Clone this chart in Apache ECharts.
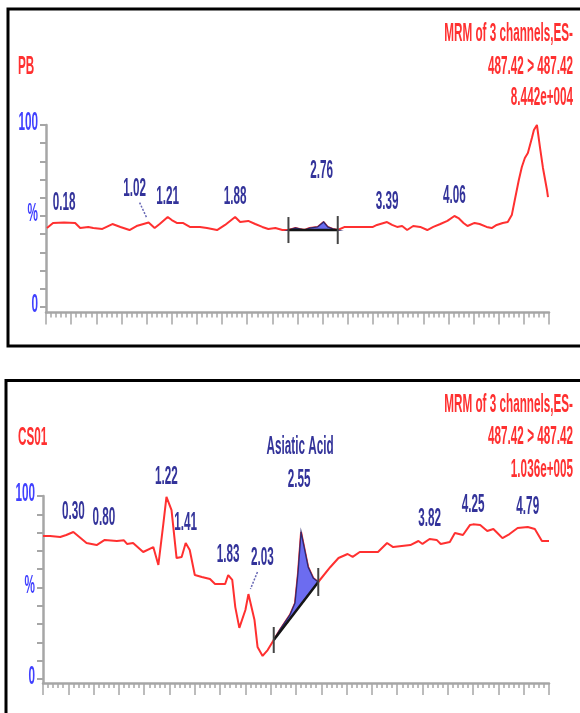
<!DOCTYPE html>
<html>
<head>
<meta charset="utf-8">
<script src="https://cdn.jsdelivr.net/npm/echarts@6/dist/echarts.min.js"></script>
<style>
  html, body { margin: 0; padding: 0; background: #fff; }
  #chart { width: 580px; height: 713px; }
</style>
</head>
<body>
<div id="chart"></div>
<script>
// ---- PB channel: retention time (min) and relative intensity (%) ----
const pbTime = [0.01, 0.07, 0.18, 0.29, 0.34, 0.42, 0.47, 0.56, 0.66, 0.74, 0.83, 0.90, 0.96, 1.02,
  1.08, 1.13, 1.21, 1.25, 1.30, 1.36, 1.43, 1.53, 1.60, 1.70, 1.78, 1.88, 1.93, 2.01, 2.08, 2.15,
  2.21, 2.28, 2.35, 2.41, 2.48, 2.52, 2.57, 2.62, 2.70, 2.76, 2.80, 2.85, 2.90, 2.97, 3.12, 3.25,
  3.29, 3.39, 3.44, 3.49, 3.54, 3.59, 3.65, 3.72, 3.79, 3.85, 3.92, 3.99, 4.06, 4.10, 4.15, 4.19,
  4.26, 4.31, 4.38, 4.43, 4.48, 4.54, 4.59, 4.63, 4.66, 4.70, 4.73, 4.76, 4.79, 4.83, 4.85, 4.88,
  4.89, 4.91, 4.94, 4.98, 4.99];
const pbIntensity = [43.4, 46.2, 46.5, 46.2, 43.4, 44.0, 43.4, 42.9, 45.6, 44.0, 42.3, 44.5, 45.5, 46.4,
  43.4, 45.6, 49.5, 47.8, 46.2, 46.2, 44.0, 44.0, 43.4, 42.3, 45.1, 49.5, 46.7, 47.3, 45.6, 44.0,
  42.9, 43.4, 42.3, 42.3, 43.4, 42.9, 42.3, 43.4, 44.0, 46.7, 44.0, 42.9, 42.3, 44.0, 44.0, 44.0,
  45.1, 46.7, 45.1, 44.0, 44.5, 42.3, 44.5, 44.0, 42.3, 44.0, 45.6, 47.3, 50.0, 48.9, 46.2, 44.5,
  46.2, 45.6, 44.0, 43.4, 45.1, 46.2, 46.7, 50.5, 58.8, 69.8, 76.9, 81.9, 84.6, 92.9, 97.3, 100,
  100, 87.9, 76.4, 64.3, 60.4];
const pbPeakTimes = [0.18, 1.02, 1.21, 1.88, 2.76, 3.39, 4.06];
const pbIntegration = [[2.41, 42.3], [2.90, 42.3]];
const pbHeader = ['MRM of 3 channels,ES-', '487.42 > 487.42', '8.442e+004'];
const pbName = 'PB';

// ---- CS01 channel ----
const csTime = [0.00, 0.07, 0.17, 0.23, 0.30, 0.43, 0.53, 0.61, 0.73, 0.80, 0.83, 0.89, 0.99, 1.09,
  1.14, 1.19, 1.22, 1.27, 1.32, 1.37, 1.41, 1.45, 1.50, 1.57, 1.65, 1.70, 1.80, 1.83, 1.87, 1.90,
  1.94, 2.00, 2.03, 2.09, 2.12, 2.17, 2.22, 2.28, 2.34, 2.44, 2.49, 2.52, 2.55, 2.62, 2.67, 2.72,
  2.84, 2.92, 3.01, 3.06, 3.13, 3.31, 3.40, 3.46, 3.63, 3.71, 3.75, 3.82, 3.89, 3.93, 4.02, 4.07,
  4.15, 4.22, 4.25, 4.32, 4.39, 4.45, 4.49, 4.54, 4.61, 4.69, 4.79, 4.86, 4.93, 5.00];
const csIntensity = [78.1, 78.1, 77.6, 78.7, 80.3, 74.3, 73.2, 76.0, 75.4, 75.8, 73.8, 74.3, 69.4, 72.1,
  62.3, 85.2, 99.5, 92.3, 66.1, 66.7, 74.3, 70.5, 56.8, 55.7, 54.6, 51.9, 51.9, 56.8, 54.1, 39.3,
  27.9, 37.7, 46.4, 32.2, 17.5, 12.6, 15.8, 21.3, 26.8, 35.0, 41.5, 58.0, 80.3, 61.2, 55.2, 53.0,
  61.2, 66.1, 68.3, 66.7, 69.4, 69.4, 74.3, 72.1, 73.2, 75.4, 73.8, 76.5, 76.0, 73.8, 74.9, 79.8,
  78.7, 84.2, 84.5, 84.2, 80.9, 82.0, 79.8, 77.0, 79.2, 82.5, 83.1, 82.0, 75.4, 75.4];
const csPeakTimes = [0.30, 0.80, 1.22, 1.41, 1.83, 2.03, 2.55, 3.82, 4.25, 4.79];
const csIntegration = [[2.28, 21.3], [2.72, 53.0]];
const csHeader = ['MRM of 3 channels,ES-', '487.42 > 487.42', '1.036e+005'];
const csName = 'CS01';
const csCompound = { '2.55': 'Asiatic Acid' };

// ---- shared axis values ----
const timeMin = 0;
const timeMax = 5.0;
const yTickValues = [0, 10, 20, 30, 40, 50, 60, 70, 80, 90, 100];
const yLabelValues = [0, 50, 100];
const yLabelTexts = ['0', '%', '100'];

// ---- styling ----
const FONT = 'bold 26px "Liberation Sans", Arial, sans-serif';
const SQUEEZE = 0.45;              // tall, narrow instrument-report lettering
const RED = '#ff3030';
const PEAK_BLUE = '#33339a';
const AXIS_BLUE = '#4040ff';
const AXIS_GREY = '#a6a6a6';

// label offsets (px) relative to the apex; a third entry draws a leader line
const pbShift = { '1.02': [-14, -34, true], '2.76': [-2, -51] };
const csShift = { '0.80': [-20, -22], '2.03': [14, -36, true], '2.55': [-2, -52] };
const defaultShift = [0, -20];

function traceData(times, values) {
  return times.map((t, i) => [t, values[i]]);
}

function xAxisCfg(gridIndex) {
  return {
    type: 'value', gridIndex, min: timeMin, max: timeMax, interval: 0.25,
    axisLine: { onZero: false, lineStyle: { color: AXIS_GREY, width: 2.5 } },
    axisTick: { show: true, length: 12, lineStyle: { color: AXIS_GREY, width: 1.5 } },
    minorTick: { show: true, splitNumber: 5, length: 5, lineStyle: { color: AXIS_GREY, width: 1.5 } },
    axisLabel: { show: false },
    splitLine: { show: false },
    minorSplitLine: { show: false }
  };
}

function yAxisCfg(gridIndex, min) {
  return {
    type: 'value', gridIndex, min, max: 100,
    axisLine: { show: true, lineStyle: { color: AXIS_GREY, width: 2.5 } },
    axisTick: { show: true, length: 6, customValues: yTickValues, lineStyle: { color: AXIS_GREY, width: 2 } },
    axisLabel: { show: false },
    splitLine: { show: false }
  };
}

function lineSeries(gridIndex, times, values) {
  return {
    type: 'line', xAxisIndex: gridIndex, yAxisIndex: gridIndex,
    data: traceData(times, values),
    showSymbol: false, silent: true, z: 3,
    lineStyle: { color: RED, width: 2 }
  };
}

function squeezedText(text, x, y, fill, align) {
  return {
    type: 'text', x, y, scaleX: SQUEEZE,
    style: { text, fill, font: FONT, align: align || 'center', verticalAlign: 'middle' }
  };
}

function yLabelSeries(gridIndex) {
  return {
    type: 'custom', xAxisIndex: gridIndex, yAxisIndex: gridIndex, silent: true, z: 10,
    data: yLabelValues.map(v => [timeMin, v]),
    renderItem(params, api) {
      const p = api.coord([api.value(0), api.value(1)]);
      return squeezedText(yLabelTexts[params.dataIndex], p[0] - 8, p[1] - 2, AXIS_BLUE, 'right');
    }
  };
}

function peakLabelSeries(gridIndex, times, values, peaks, shifts, compound) {
  return {
    type: 'custom', xAxisIndex: gridIndex, yAxisIndex: gridIndex, silent: true, z: 10,
    data: peaks.map(t => [t, values[times.indexOf(t)]]),
    renderItem(params, api) {
      const t = api.value(0);
      const p = api.coord([t, api.value(1)]);
      const text = t.toFixed(2);
      const s = shifts[text] || defaultShift;
      const cx = p[0] + s[0];
      const cy = p[1] + s[1];
      const children = [squeezedText(text, cx, cy, PEAK_BLUE)];
      if (s[2]) {
        const dir = Math.sign(p[0] - cx);
        children.push({
          type: 'line',
          shape: { x1: cx + dir * 5, y1: cy + 14, x2: p[0] - dir * 2, y2: p[1] - 5 },
          style: { stroke: '#6767b4', lineWidth: 1.5, lineDash: [2, 1.5] }
        });
      }
      if (compound && compound[text]) {
        children.push(squeezedText(compound[text], cx + 1, cy - 33, PEAK_BLUE));
      }
      return { type: 'group', children };
    }
  };
}

function integrationSeries(gridIndex, times, values, win) {
  return {
    type: 'custom', xAxisIndex: gridIndex, yAxisIndex: gridIndex, silent: true, z: 6,
    data: [win[0]],
    renderItem(params, api) {
      const a = api.coord(win[0]);
      const b = api.coord(win[1]);
      const pts = [a];
      times.forEach((t, i) => {
        if (t > win[0][0] && t < win[1][0]) pts.push(api.coord([t, values[i]]));
      });
      pts.push(b);
      return {
        type: 'group',
        children: [
          { type: 'polygon', shape: { points: pts }, style: { fill: '#6c6cf0', stroke: '#2c2a6e', lineWidth: 1.3 } },
          { type: 'line', shape: { x1: a[0], y1: a[1], x2: b[0], y2: b[1] }, style: { stroke: '#151515', lineWidth: 2.5 } },
          { type: 'line', shape: { x1: a[0], y1: a[1] - 13, x2: a[0], y2: a[1] + 13 }, style: { stroke: '#444', lineWidth: 2 } },
          { type: 'line', shape: { x1: b[0], y1: b[1] - 14, x2: b[0], y2: b[1] + 14 }, style: { stroke: '#444', lineWidth: 2 } }
        ]
      };
    }
  };
}

function headerGraphics(lines, name, ys, nameY) {
  const out = lines.map((txt, i) => ({
    type: 'text', x: 573, y: ys[i], scaleX: SQUEEZE, z: 20,
    style: { text: txt, fill: RED, font: FONT, align: 'right', verticalAlign: 'middle' }
  }));
  out.push({
    type: 'text', x: 18, y: nameY, scaleX: SQUEEZE, z: 20,
    style: { text: name, fill: RED, font: FONT, align: 'left', verticalAlign: 'middle' }
  });
  return out;
}

const chart = echarts.init(document.getElementById('chart'), null, { renderer: 'canvas' });

chart.setOption({
  backgroundColor: '#ffffff',
  animation: false,
  grid: [
    { left: 46, right: 31, top: 125, height: 187.5 },
    { left: 43, right: 31, top: 496, height: 187 }
  ],
  xAxis: [xAxisCfg(0), xAxisCfg(1)],
  yAxis: [yAxisCfg(0, -3), yAxisCfg(1, -2.2)],
  graphic: [
    { type: 'rect', shape: { x: 8, y: 9, width: 640, height: 337 }, style: { fill: 'none', stroke: '#000', lineWidth: 3 } },
    { type: 'rect', shape: { x: 6, y: 380.5, width: 640, height: 400 }, style: { fill: 'none', stroke: '#000', lineWidth: 3 } },
    ...headerGraphics(pbHeader, pbName, [34, 67, 98], 67),
    ...headerGraphics(csHeader, csName, [405, 437, 470], 438)
  ],
  series: [
    lineSeries(0, pbTime, pbIntensity),
    integrationSeries(0, pbTime, pbIntensity, pbIntegration),
    peakLabelSeries(0, pbTime, pbIntensity, pbPeakTimes, pbShift, null),
    yLabelSeries(0),
    lineSeries(1, csTime, csIntensity),
    integrationSeries(1, csTime, csIntensity, csIntegration),
    peakLabelSeries(1, csTime, csIntensity, csPeakTimes, csShift, csCompound),
    yLabelSeries(1)
  ]
});
</script>
</body>
</html>
